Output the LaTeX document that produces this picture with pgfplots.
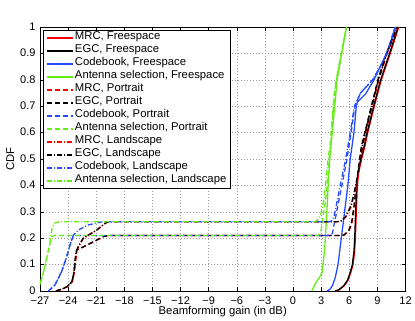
\documentclass[border=0pt]{standalone}
\usepackage{fontspec}
\setmainfont{Liberation Sans}
\usepackage{pgfplots}
\pgfplotsset{compat=1.18}
\definecolor{mred}{rgb}{1,0,0}
\definecolor{mblue}{rgb}{0.15,0.3,1}
\definecolor{mgreen}{rgb}{0.4,0.92,0.1}
\begin{document}
\begin{tikzpicture}
\begin{axis}[
  scale only axis,
  width=365.5pt, height=264pt,
  xmin=-27, xmax=12, ymin=0, ymax=1,
  xtick={-27,-24,...,12},
  xticklabels={−27,−24,−21,−18,−15,−12,−9,−6,−3,0,3,6,9,12},
  ytick={0,0.1,...,1},
  yticklabels={0,0.1,0.2,0.3,0.4,0.5,0.6,0.7,0.8,0.9,1},
  tick align=inside, xtick pos=both, ytick pos=both,
  major tick length=4pt,
  tick style={black, line width=0.5pt},
  axis line style={black, line width=0.5pt},
  grid=major,
  major grid style={black!40, line width=0.5pt, dash pattern=on 0.6pt off 2.4pt},
  ticklabel style={font=\fontsize{11}{13}\selectfont},
  xticklabel style={yshift=-2pt},
  yticklabel style={xshift=-1pt, yshift=0.5pt},
  label style={font=\fontsize{11.3}{13}\selectfont},
  xlabel={Beamforming gain (in dB)},
  ylabel={CDF},
  xlabel style={yshift=5pt},
  ylabel style={yshift=-1pt},
  legend cell align=left,
  legend style={at={(0.008,0.989)}, anchor=north west, line width=0.5pt, fill=white,
    font=\fontsize{11.3}{13}\selectfont, inner xsep=3pt, inner ysep=1pt, row sep=0pt,
    nodes={inner xsep=1pt, inner ysep=0pt, text height=8.5pt, text depth=4.5pt}},
  legend image code/.code={\draw[#1, line width=1.8pt] (0pt,0pt) -- (26pt,0pt);},
  every axis plot/.append style={line width=1.3pt},
  dashed style/.style={dash pattern=on 5pt off 3pt},
  dashdot style/.style={dash pattern=on 5pt off 2pt on 1pt off 2pt},
]
% Freespace (solid)
\addplot[color=mred, solid] coordinates {(4.58,0) (4.96,0.005) (5.46,0.02) (5.86,0.04) (6.16,0.07) (6.4,0.1) (6.57,0.15) (6.65,0.2) (6.75,0.3) (6.86,0.4) (7.0,0.45) (7.32,0.5) (7.67,0.55) (7.97,0.6) (8.67,0.7) (9.42,0.8) (10.37,0.9) (11.28,1)};
\addlegendentry{MRC, Freespace}
\addplot[color=black, solid] coordinates {(4.5,0) (4.9,0.005) (5.4,0.02) (5.8,0.04) (6.1,0.07) (6.33,0.1) (6.5,0.15) (6.58,0.2) (6.68,0.3) (6.79,0.4) (6.93,0.45) (7.25,0.5) (7.6,0.55) (7.9,0.6) (8.6,0.7) (9.35,0.8) (10.3,0.9) (11.2,1)};
\addlegendentry{EGC, Freespace}
\addplot[color=mblue, solid] coordinates {(3.6,0) (3.9,0.005) (4.2,0.02) (4.5,0.05) (4.8,0.1) (5.15,0.2) (5.5,0.3) (5.85,0.4) (6.1,0.5) (6.3,0.55) (6.5,0.6) (6.75,0.7) (6.87,0.716) (7.75,0.747) (8.64,0.8) (9.3,0.85) (10.0,0.9) (10.5,0.95) (10.9,1)};
\addlegendentry{Codebook, Freespace}
\addplot[color=mgreen, solid] coordinates {(2.0,0) (2.4,0.03) (2.8,0.05) (3.1,0.07) (3.37,0.155) (3.58,0.28) (3.76,0.408) (3.92,0.5) (4.0,0.534) (4.19,0.6) (4.45,0.7) (4.7,0.8) (5.2,0.9) (5.7,1)};
\addlegendentry{Antenna selection, Freespace}
% Portrait (dashed)
\addplot[color=mred, dashed style] coordinates {(-25.25,0) (-24.55,0.008) (-24.1,0.016) (-23.55,0.035) (-23.35,0.067) (-23.2,0.117) (-23.05,0.155) (-21.95,0.174) (-20.9,0.193) (-20.15,0.207) (-19.65,0.21) (4.95,0.21) (5.48,0.212) (6.02,0.231) (6.31,0.262) (6.55,0.32) (6.81,0.408) (7.09,0.484) (7.35,0.55) (7.7,0.6) (8.4,0.7) (9.1,0.8) (10.0,0.9) (11.15,1)};
\addlegendentry{MRC, Portrait}
\addplot[color=black, dashed style] coordinates {(-25.3,0) (-24.6,0.008) (-24.15,0.016) (-23.6,0.035) (-23.4,0.067) (-23.25,0.117) (-23.1,0.155) (-22.0,0.174) (-20.95,0.193) (-20.2,0.207) (-19.7,0.21) (4.9,0.21) (5.43,0.212) (5.97,0.231) (6.26,0.262) (6.5,0.32) (6.76,0.408) (7.04,0.484) (7.3,0.55) (7.65,0.6) (8.35,0.7) (9.05,0.8) (9.95,0.9) (11.1,1)};
\addlegendentry{EGC, Portrait}
\addplot[color=mblue, dashed style] coordinates {(-26.1,0) (-25.4,0.023) (-24.7,0.073) (-24.2,0.124) (-23.8,0.174) (-23.5,0.205) (-23.2,0.21) (4.0,0.21) (4.19,0.218) (4.55,0.281) (4.9,0.345) (5.26,0.408) (5.73,0.496) (5.97,0.55) (6.2,0.6) (6.6,0.7) (7.2,0.75) (8.5,0.8) (9.3,0.85) (10.0,0.9) (10.9,1)};
\addlegendentry{Codebook, Portrait}
\addplot[color=mgreen, dashed style] coordinates {(-27.3,0) (-27,0.025) (-26.5,0.09) (-26.0,0.17) (-25.75,0.205) (-25.5,0.21) (2.6,0.21) (2.8,0.215) (3.0,0.231) (3.2,0.28) (3.48,0.345) (3.66,0.408) (3.84,0.49) (4.05,0.55) (4.15,0.62) (4.45,0.75) (4.65,0.8) (5.15,0.9) (5.7,1)};
\addlegendentry{Antenna selection, Portrait}
% Landscape (dash-dot)
\addplot[color=mred, dashdot style] coordinates {(-25.25,0) (-24.55,0.008) (-24.1,0.016) (-23.55,0.035) (-23.35,0.067) (-23.2,0.117) (-23.1,0.15) (-22.85,0.17) (-22.35,0.2) (-20.9,0.231) (-20.25,0.25) (-19.85,0.26) (-19.45,0.262) (4.55,0.262) (5.13,0.264) (5.65,0.281) (6.2,0.32) (6.55,0.37) (6.92,0.433) (7.25,0.496) (7.45,0.55) (7.75,0.6) (8.45,0.7) (9.15,0.8) (10.05,0.9) (11.15,1)};
\addlegendentry{MRC, Landscape}
\addplot[color=black, dashdot style] coordinates {(-25.3,0) (-24.6,0.008) (-24.15,0.016) (-23.6,0.035) (-23.4,0.067) (-23.25,0.117) (-23.15,0.15) (-22.9,0.17) (-22.4,0.2) (-20.95,0.231) (-20.3,0.25) (-19.9,0.26) (-19.5,0.262) (4.5,0.262) (5.08,0.264) (5.6,0.281) (6.15,0.32) (6.5,0.37) (6.87,0.433) (7.2,0.496) (7.4,0.55) (7.7,0.6) (8.4,0.7) (9.1,0.8) (10.0,0.9) (11.1,1)};
\addlegendentry{EGC, Landscape}
\addplot[color=mblue, dashdot style] coordinates {(-26.1,0) (-25.4,0.023) (-24.7,0.073) (-24.2,0.124) (-23.8,0.174) (-23.47,0.21) (-22.9,0.231) (-21.9,0.25) (-21,0.257) (-20.4,0.262) (3.9,0.262) (4.1,0.266) (4.37,0.281) (4.73,0.345) (5.08,0.408) (5.6,0.496) (5.86,0.55) (6.1,0.6) (6.55,0.7) (7.2,0.75) (8.5,0.8) (9.3,0.85) (10.0,0.9) (10.9,1)};
\addlegendentry{Codebook, Landscape}
\addplot[color=mgreen, dashdot style] coordinates {(-27.3,0) (-27,0.025) (-26.5,0.09) (-26.0,0.17) (-25.7,0.24) (-25.4,0.258) (-25,0.262) (2.2,0.262) (2.5,0.265) (2.94,0.288) (3.3,0.345) (3.48,0.408) (3.73,0.496) (3.94,0.55) (4.1,0.62) (4.4,0.75) (4.6,0.8) (5.15,0.9) (5.7,1)};
\addlegendentry{Antenna selection, Landscape}
\end{axis}
\path ([shift={(-40pt,-28pt)}]current axis.south west) rectangle ([shift={(9.5pt,27pt)}]current axis.north east);
\end{tikzpicture}
\end{document}
